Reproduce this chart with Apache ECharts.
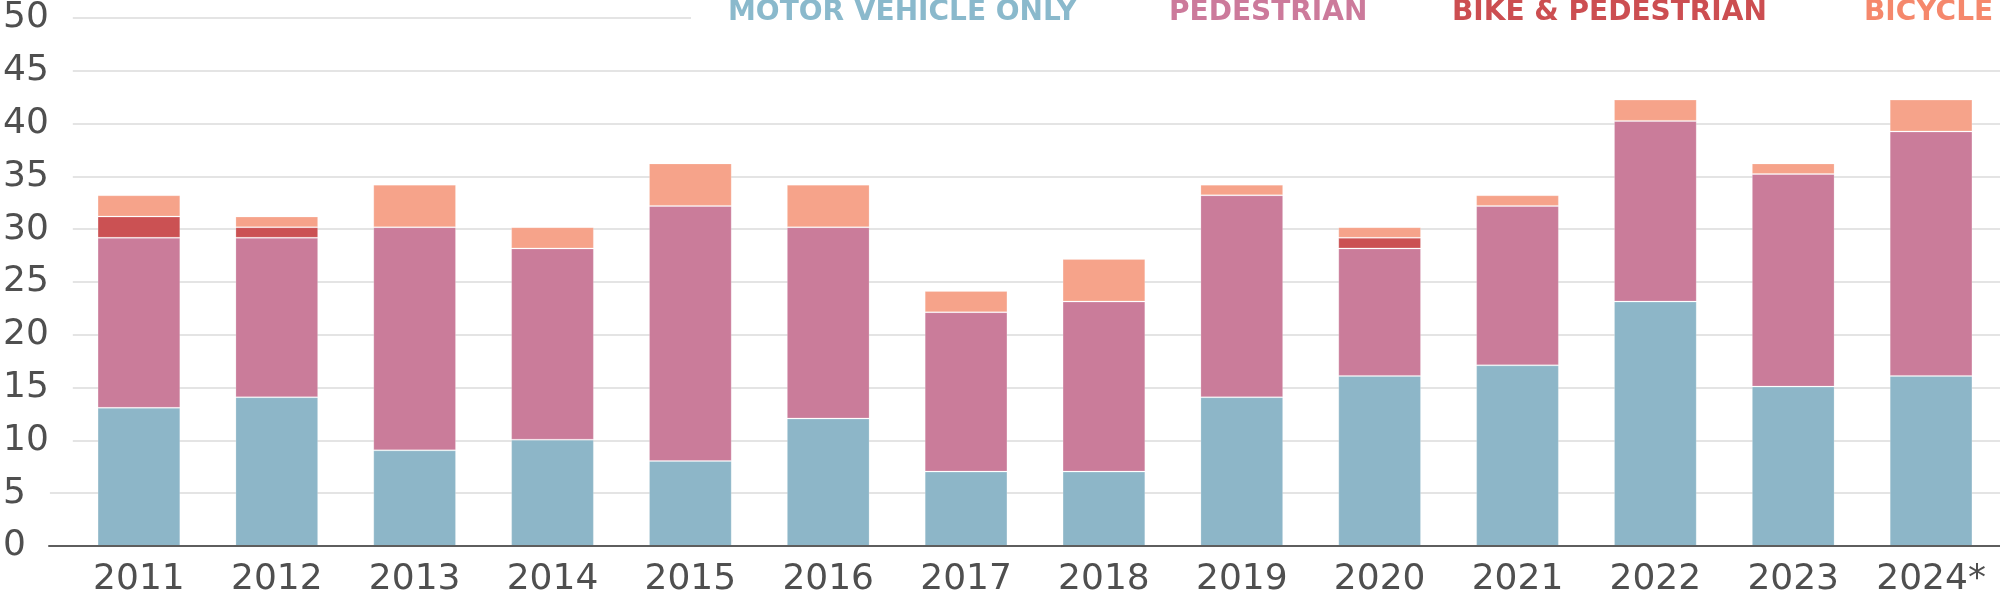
<!DOCTYPE html>
<html>
<head>
<meta charset="utf-8">
<title>Traffic deaths by type</title>
<script src="https://cdn.jsdelivr.net/npm/echarts@6.0.0/dist/echarts.min.js"></script>
<style>
  html, body { margin: 0; padding: 0; background: #fff; }
  #chart { width: 2000px; height: 598px; }
</style>
</head>
<body>
<div id="chart"></div>
<script>
var years = ['2011', '2012', '2013', '2014', '2015', '2016', '2017', '2018', '2019', '2020', '2021', '2022', '2023', '2024*'];
var motorVehicleOnly = [13, 14, 9, 10, 8, 12, 7, 7, 14, 16, 17, 23, 15, 16];
var pedestrian = [16, 15, 21, 18, 24, 18, 15, 16, 19, 12, 15, 17, 20, 23];
var bikeAndPedestrian = [2, 1, 0, 0, 0, 0, 0, 0, 0, 1, 0, 0, 0, 0];
var bicycle = [2, 1, 4, 2, 4, 4, 2, 4, 1, 1, 1, 2, 1, 3];
var yMin = 0, yMax = 50, yStep = 5;

var seriesNames = ['MOTOR VEHICLE ONLY', 'PEDESTRIAN', 'BIKE & PEDESTRIAN', 'BICYCLE'];
var barColors = ['#8db6c8', '#ca7c9a', '#cb5153', '#f6a38a'];
var legendColors = ['#8ab9cc', '#cc7a9b', '#cc4e51', '#f5886c'];
var legendLeft = [723, 1164, 1447, 1859];

var font = 'DejaVu Sans';
var grey = '#4f4f4f';

var chart = echarts.init(document.getElementById('chart'));

function makeLegend(i) {
    return {
        data: [{ name: seriesNames[i], textStyle: { color: legendColors[i] } }],
        left: legendLeft[i],
        top: -1,
        padding: 0,
        icon: 'none',
        itemWidth: 0,
        itemHeight: 27,
        selectedMode: false,
        z: 10,
        textStyle: { fontSize: 28, fontWeight: 'bold', fontFamily: font }
    };
}

function makeBar(i, values) {
    return {
        name: seriesNames[i],
        type: 'bar',
        stack: 'total',
        xAxisIndex: 1,
        yAxisIndex: 2,
        barWidth: '60%',
        itemStyle: { color: barColors[i], borderColor: 'rgba(255,255,255,0.2)', borderWidth: 1 },
        emphasis: { disabled: true },
        data: values
    };
}

var option = {
    animation: false,
    backgroundColor: '#fff',
    grid: [
        { left: 45, right: 0, top: 14.6, bottom: 52 },
        { left: 70, right: 0, top: 14.6, bottom: 52 }
    ],
    graphic: [{
        type: 'rect',
        left: 691,
        top: 0,
        z: 1,
        shape: { width: 1309, height: 32 },
        style: { fill: '#fff' }
    }],
    legend: [makeLegend(0), makeLegend(1), makeLegend(2), makeLegend(3)],
    xAxis: [{
        gridIndex: 0,
        type: 'value',
        min: 0,
        max: 1,
        axisLine: { show: true, onZero: false, lineStyle: { color: '#5e5e5e', width: 2 } },
        axisTick: { show: false },
        axisLabel: { show: false },
        splitLine: { show: false },
        z: 5
    }, {
        gridIndex: 1,
        type: 'category',
        data: years,
        axisLine: { show: false },
        axisTick: { show: false },
        axisLabel: { interval: 0, fontSize: 36, color: grey, fontFamily: font, margin: 16 }
    }],
    yAxis: [{
        gridIndex: 0,
        type: 'value',
        position: 'left',
        min: yMin,
        max: yMax,
        interval: yStep,
        axisLine: { show: false },
        axisTick: { show: false },
        axisLabel: { show: false },
        splitLine: { lineStyle: { color: '#e4e4e4', width: 2 } },
        z: 0
    }, {
        gridIndex: 0,
        type: 'value',
        position: 'left',
        offset: 0,
        min: yMin,
        max: yMax,
        interval: yStep,
        axisLine: { show: false },
        axisTick: { show: false },
        splitLine: { show: false },
        axisLabel: {
            align: 'left',
            margin: 46,
            fontSize: 36,
            color: grey,
            fontFamily: font,
            backgroundColor: '#fff',
            padding: [0, 24, 0, 0]
        },
        z: 3
    }, {
        gridIndex: 1,
        type: 'value',
        min: yMin,
        max: yMax,
        interval: yStep,
        show: false
    }],
    series: [
        makeBar(0, motorVehicleOnly),
        makeBar(1, pedestrian),
        makeBar(2, bikeAndPedestrian),
        makeBar(3, bicycle)
    ]
};

chart.setOption(option);
</script>
</body>
</html>
